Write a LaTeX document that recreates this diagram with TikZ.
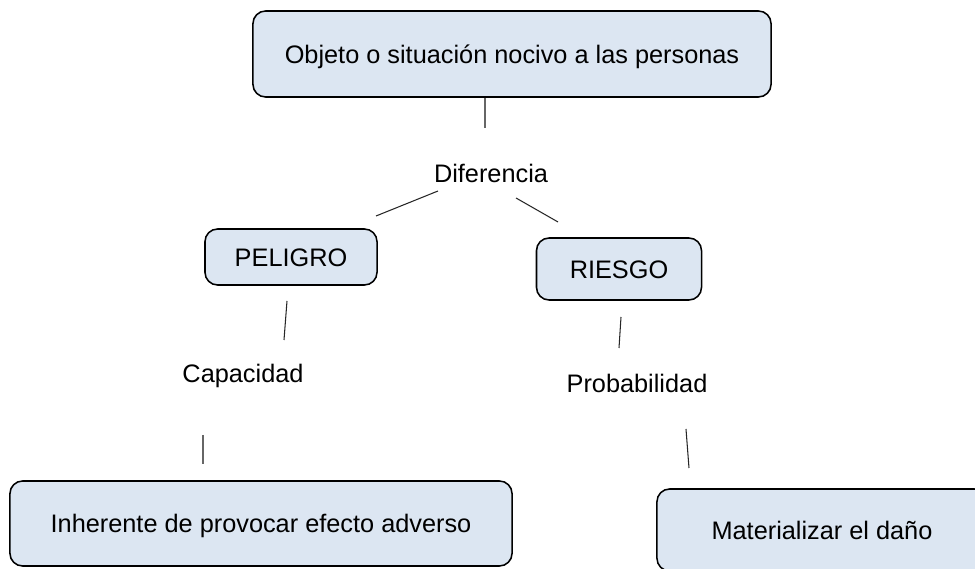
\documentclass[tikz,border=0pt]{standalone}
\usepackage{fontspec}
\setmainfont{Liberation Sans}
\usetikzlibrary{positioning}
\definecolor{kastenblau}{HTML}{DCE6F2}
\tikzset{
  kasten/.style={draw=black, line width=1.1pt, fill=kastenblau, rounded corners=9pt, inner sep=0pt},
  wort/.style={inner sep=0pt},
  strich/.style={line width=0.75pt, draw=black!85},
}

\begin{document}
\begin{tikzpicture}[x=0.025cm, y=-0.025cm, font=\fontsize{18}{21}\selectfont,
  every node/.append style={text height=12.9pt, text depth=0pt}]
\useasboundingbox (0,0) rectangle (975,569);
\clip (0,0) rectangle (975,569);
% oben
\node[kasten, minimum width=12.95cm, minimum height=2.15cm] (objeto) at (512,54) {Objeto o situaci\'on nocivo a las personas};
\node[wort] (diferencia) at (491,173) {Diferencia};
% links
\node[kasten, minimum width=4.3cm, minimum height=1.4cm] (peligro) at (291,257) {PELIGRO};
\node[wort] (capacidad) at (243,373) {Capacidad};
\node[kasten, minimum width=12.55cm, minimum height=2.125cm] (inherente) at (261,523.5) {Inherente de provocar efecto adverso};
% rechts
\node[kasten, minimum width=4.125cm, minimum height=1.55cm] (riesgo) at (619,269) {RIESGO};
\node[wort] (probabilidad) at (637,383) {Probabilidad};
\node[kasten, minimum width=8.25cm, minimum height=2.05cm] (materializar) at (822,530) {Materializar el da\~no};
% striche
\coordinate (o1) at (485,98);   \coordinate (o2) at (485,128);
\coordinate (l1) at (438,191);  \coordinate (l2) at (376,216);
\coordinate (r1) at (516,198);  \coordinate (r2) at (558,222);
\coordinate (p1) at (287,301);  \coordinate (p2) at (284,340);
\coordinate (c1) at (203,435);  \coordinate (c2) at (203,464);
\coordinate (g1) at (621,317);  \coordinate (g2) at (619,348);
\coordinate (b1) at (686,429);  \coordinate (b2) at (689,468);
\draw[strich, draw=black!60] (o1) -- (o2);
\draw[strich] (l1) -- (l2);
\draw[strich] (r1) -- (r2);
\draw[strich] (p1) -- (p2);
\draw[strich, draw=black!60] (c1) -- (c2);
\draw[strich] (g1) -- (g2);
\draw[strich] (b1) -- (b2);
\end{tikzpicture}
\end{document}
